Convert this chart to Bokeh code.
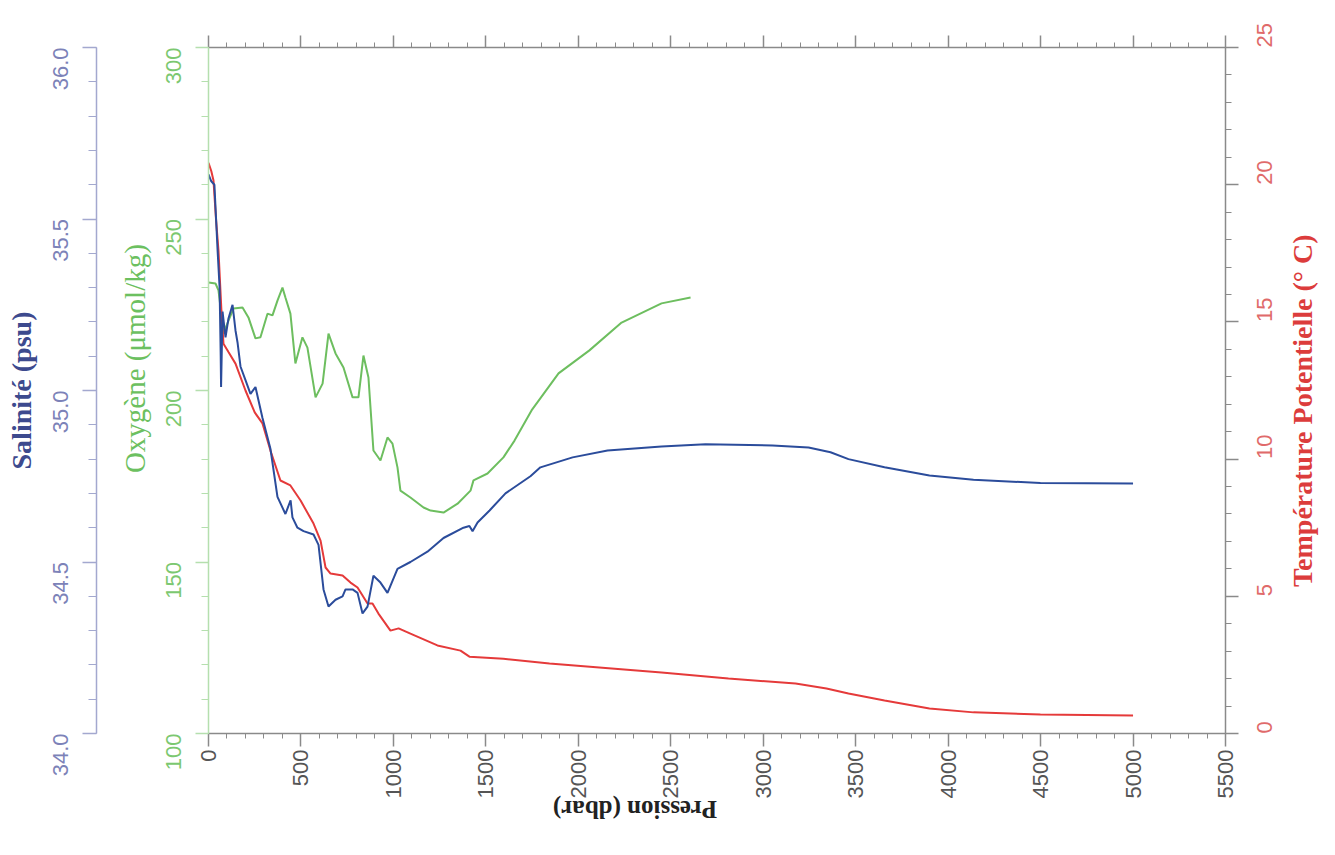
import math
from bokeh.plotting import figure
from bokeh.layouts import row
from bokeh.models import (Range1d, LinearAxis, FixedTicker, SingleIntervalTicker,
                          PrintfTickFormatter, CustomJSTickFormatter)
from bokeh.core.properties import value
from bokeh.embed import file_html
from bokeh.resources import INLINE

# ---- data ----
sal_p = [0, 15, 32, 49, 60, 66, 68, 72, 76, 92, 108, 130, 146, 157, 173, 200, 227, 254, 292, 335,
         373, 416, 444, 454, 481, 514, 568, 595, 622, 649, 687, 725, 741, 779, 806, 833, 860, 892,
         930, 968, 1022, 1092, 1184, 1271, 1379, 1411, 1428, 1455, 1520, 1606, 1741, 1795, 1969,
         2158, 2450, 2688, 3050, 3245, 3364, 3461, 3656, 3899, 4137, 4499, 5000]
sal_v = [35.63, 35.61, 35.60, 35.41, 35.30, 35.10, 35.01, 35.12, 35.23, 35.155, 35.21, 35.25, 35.175,
         35.14, 35.07, 35.03, 34.99, 35.01, 34.92, 34.83, 34.69, 34.64, 34.68, 34.63, 34.60, 34.59,
         34.58, 34.55, 34.42, 34.37, 34.39, 34.40, 34.42, 34.42, 34.41, 34.35, 34.37, 34.46, 34.44,
         34.41, 34.48, 34.50, 34.53, 34.57, 34.60, 34.605, 34.59, 34.615, 34.65, 34.70, 34.75,
         34.776, 34.805, 34.825, 34.837, 34.843, 34.84, 34.834, 34.82, 34.80, 34.776, 34.752,
         34.74, 34.73, 34.729]

temp_p = [0, 15, 27, 40, 54, 70, 81, 108, 146, 200, 250, 292, 335, 389, 443, 498, 568, 606, 633,
          660, 725, 768, 806, 860, 887, 919, 984, 1028, 1092, 1238, 1363, 1411, 1595, 1844, 2450,
          2812, 3175, 3342, 3461, 3656, 3899, 4137, 4499, 5000]
temp_v = [20.8, 20.5, 20.15, 18.8, 17.6, 15.4, 14.2, 13.9, 13.48, 12.5, 11.7, 11.3, 10.31, 9.22,
          9.04, 8.49, 7.65, 7.03, 6.05, 5.83, 5.76, 5.50, 5.32, 4.74, 4.74, 4.37, 3.75, 3.83, 3.64,
          3.21, 3.02, 2.80, 2.72, 2.55, 2.22, 2.0, 1.82, 1.64, 1.46, 1.20, 0.91, 0.77, 0.69, 0.66]

oxy_p = [0, 38, 54, 70, 81, 108, 135, 184, 216, 254, 281, 319, 346, 373, 400, 416, 443, 470, 508,
         535, 579, 617, 649, 687, 730, 779, 811, 838, 865, 892, 930, 968, 995, 1022, 1038, 1092,
         1163, 1201, 1271, 1347, 1417, 1433, 1509, 1595, 1655, 1747, 1893, 2060, 2234, 2450, 2607]
oxy_v = [231.5, 231.2, 229.2, 222.0, 216.6, 220.4, 223.9, 224.2, 221.3, 215.2, 215.5, 222.4, 221.9,
         226.2, 230.0, 227.1, 222.4, 207.9, 215.5, 212.5, 198.0, 202.0, 216.6, 210.8, 206.7, 198.0,
         198.0, 210.2, 203.8, 182.5, 179.6, 186.3, 184.5, 177.6, 170.8, 168.8, 165.9, 165.0, 164.4,
         167.0, 170.8, 173.8, 175.8, 180.5, 185.4, 194.2, 205.0, 211.7, 219.8, 225.4, 227.1]

x_label = "Pression (dbar)"
sal_label = "Salinité (psu)"
oxy_label = "Oxygène (μmol/kg)"
temp_label = "Température Potentielle (° C)"

# ---- colours / fonts ----
SAL_LINE = "#2b4c9b"
OXY_LINE = "#6dbe5f"
TEMP_LINE = "#e53a3a"
TICK_FONT = "Liberation Sans"
TITLE_FONT = "Liberation Serif"
EM = "\u2003"
THIN = "\u2009"

W_MAIN = 1285
W_SIDE = 43
H = 848

p = figure(width=W_MAIN, height=H, x_range=Range1d(0, 5500), y_range=Range1d(100, 300),
           output_backend="svg", toolbar_location=None,
           min_border_left=208, min_border_right=W_MAIN - 1225, min_border_top=47,
           min_border_bottom=115)
p.extra_y_ranges = {"sal": Range1d(34, 36), "temp": Range1d(0, 25)}
p.outline_line_color = None
p.grid.visible = False
p.background_fill_color = "white"
p.border_fill_color = "white"

def style_axis(ax, line_col, lab_col, tick_out, minor_out):
    ax.axis_line_color = line_col
    ax.major_tick_line_color = line_col
    ax.minor_tick_line_color = line_col
    ax.major_tick_out = tick_out
    ax.major_tick_in = 0
    ax.minor_tick_out = minor_out
    ax.minor_tick_in = 0
    ax.axis_line_width = 1.5
    ax.major_tick_line_width = 1.5
    ax.major_label_text_color = lab_col
    ax.major_label_text_font = TICK_FONT
    ax.major_label_text_font_size = "22px"

# bottom axis
xa = p.xaxis[0]
xa.ticker = SingleIntervalTicker(interval=500, num_minor_ticks=5)
style_axis(xa, "#8a8a8a", "#555555", 13, 5)
xa.major_label_orientation = math.pi / 2
xa.major_label_standoff = 3
xa.axis_label = x_label
xa.axis_label_orientation = -math.pi
xa.axis_label_text_font = TITLE_FONT
xa.axis_label_text_font_style = "bold"
xa.axis_label_text_font_size = "25px"
xa.axis_label_text_color = "#222222"
xa.axis_label_standoff = 8

# top axis (ticks only)
top = LinearAxis(ticker=SingleIntervalTicker(interval=500, num_minor_ticks=5),
                 formatter=CustomJSTickFormatter(code="return ''"))
style_axis(top, "#8a8a8a", "#555555", 12, 5)
top.major_label_standoff = 0
p.add_layout(top, "above")

# oxygen axis (inner left)
ya = p.yaxis[0]
ya.ticker = SingleIntervalTicker(interval=50, num_minor_ticks=5)
style_axis(ya, "#b5dfae", "#7cc870", 13, 7)
ya.major_label_orientation = math.pi / 2
ya.major_label_standoff = 22
ya.axis_label = EM + EM + THIN + oxy_label
ya.axis_label_text_font = TITLE_FONT
ya.axis_label_text_font_style = "normal"
ya.axis_label_text_font_size = "29px"
ya.axis_label_text_color = "#6cc060"
ya.axis_label_standoff = 5

# spacer axis between oxygen and salinity axes
sp = LinearAxis(ticker=FixedTicker(ticks=[]))
sp.axis_line_color = None
sp.major_tick_out = 0
sp.minor_tick_out = 0
sp.major_tick_line_color = None
sp.minor_tick_line_color = None
sp.axis_label = EM
sp.axis_label_text_font_size = "12px"
sp.axis_label_standoff = 2
p.add_layout(sp, "left")

# salinity axis (outer left)
sa = LinearAxis(y_range_name="sal", ticker=SingleIntervalTicker(interval=0.5, num_minor_ticks=5),
                formatter=PrintfTickFormatter(format="%.1f"))
style_axis(sa, "#a3a8cf", "#7c82b8", 14, 8)
sa.major_label_orientation = math.pi / 2
sa.major_label_standoff = 22
sa.axis_label = sal_label
sa.axis_label_text_font = TITLE_FONT
sa.axis_label_text_font_style = "bold"
sa.axis_label_text_font_size = "28px"
sa.axis_label_text_color = "#3d4a8e"
sa.axis_label_standoff = 6
p.add_layout(sa, "left")

# temperature axis (right) - title drawn in the side strip
ta = LinearAxis(y_range_name="temp", ticker=SingleIntervalTicker(interval=5, num_minor_ticks=5))
style_axis(ta, "#8a8a8a", "#e06a6a", 13, 6)
ta.major_label_orientation = math.pi / 2
ta.major_label_standoff = 26
p.add_layout(ta, "right")

# data lines
p.line(oxy_p, oxy_v, line_color=OXY_LINE, line_width=2)
p.line(temp_p, temp_v, line_color=TEMP_LINE, line_width=2, y_range_name="temp")
p.line(sal_p, sal_v, line_color=SAL_LINE, line_width=2, y_range_name="sal")

# side strip holding the right-hand title
s = figure(width=W_SIDE, height=H, x_range=Range1d(0, W_SIDE), y_range=Range1d(H, 0),
           output_backend="svg", toolbar_location=None, x_axis_type=None, y_axis_type=None,
           min_border=0)
s.outline_line_color = None
s.grid.visible = False
s.background_fill_color = "white"
s.border_fill_color = "white"
s.text(x=[17], y=[449], text=[temp_label], angle=math.pi / 2, text_align="center",
       text_baseline="middle", text_font=value(TITLE_FONT), text_font_style="bold",
       text_font_size="28px", text_color="#dc3c3c")

layout = row(p, s, spacing=0)
open("out.html", "w").write(file_html(layout, INLINE))
